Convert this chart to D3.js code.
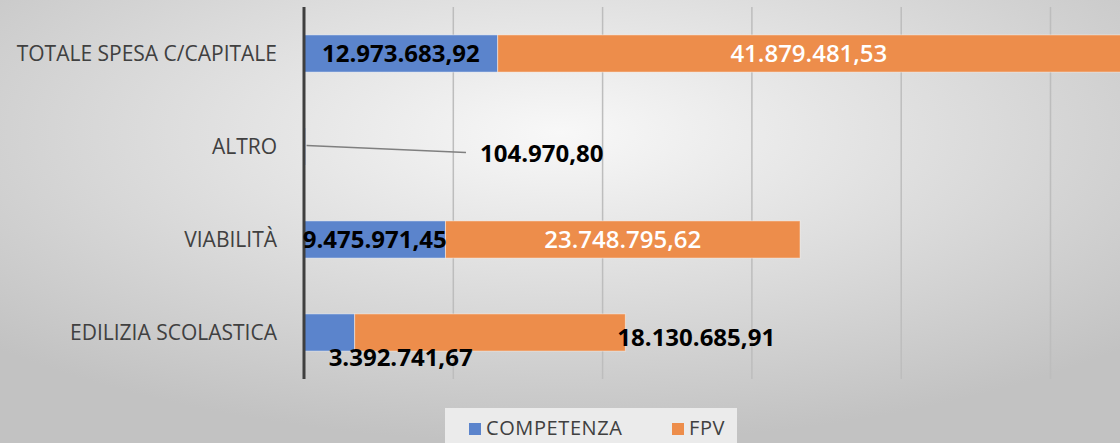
<!DOCTYPE html>
<html>
<head>
<meta charset="utf-8">
<script src="https://cdn.jsdelivr.net/npm/d3@7"></script>
<style>
  html, body { margin: 0; padding: 0; overflow: hidden; }
  svg { display: block; font-family: "Open Sans", sans-serif; }
</style>
</head>
<body>
<div id="chart"></div>
<script>
// data
const categories = ["TOTALE SPESA C/CAPITALE", "ALTRO", "VIABILITÀ", "EDILIZIA SCOLASTICA"]
const competenza = [12973683.92, 104970.80, 9475971.45, 3392741.67]
const fpv = [41879481.53, 0, 23748795.62, 18130685.91]
const seriesNames = ["COMPETENZA", "FPV"]
const xTicks = [0, 10e6, 20e6, 30e6, 40e6, 50e6]

const width = 1120, height = 443
const margin = ({ top: 7, left: 304, bottom: 64 })
const colors = ["#5b84cc", "#ed8d4b"]

const fmt = v => v.toLocaleString("it-IT", { minimumFractionDigits: 2, maximumFractionDigits: 2 })

let svg = d3.select("#chart").append("svg")
    .attr("width", width)
    .attr("height", height)

const defs = svg.append("defs")
const grad = defs.append("radialGradient")
    .attr("id", "bg")
    .attr("cx", "50%").attr("cy", "30%").attr("r", "70%")
grad.append("stop").attr("offset", "0%").attr("stop-color", "#f8f8f8")
grad.append("stop").attr("offset", "100%").attr("stop-color", "#c2c2c2")

defs.append("clipPath").attr("id", "clip")
    .append("rect").attr("width", width).attr("height", height)

svg.append("rect")
    .attr("width", width).attr("height", height)
    .attr("fill", "url(#bg)")

let xScale = d3.scaleLinear()
    .domain([0, 60e6])
    .range([margin.left, margin.left + 149.3 * 6])

let yScale = d3.scaleBand()
    .domain(categories)
    .range([margin.top, height - margin.bottom])
    .paddingInner(0.6)
    .paddingOuter(0.3)

// gridlines
svg.append("g")
    .selectAll("line")
    .data(xTicks.slice(1))
    .join("line")
    .attr("x1", d => xScale(d)).attr("x2", d => xScale(d))
    .attr("y1", margin.top).attr("y2", height - margin.bottom)
    .attr("stroke", "#bdbdbd")
    .attr("stroke-width", 1.5)

// stacked bars
const table = categories.map((c, i) => ({ cat: c, COMPETENZA: competenza[i], FPV: fpv[i] }))
const stacked = d3.stack().keys(seriesNames)(table)

const g = svg.append("g").attr("clip-path", "url(#clip)")
g.selectAll(".serie")
    .data(stacked)
    .join("g")
    .attr("fill", (d, i) => colors[i])
    .selectAll("rect")
    .data(d => d)
    .join("rect")
    .attr("x", d => xScale(d[0]))
    .attr("y", d => yScale(d.data.cat))
    .attr("width", d => Math.max(0, xScale(d[1]) - xScale(d[0])))
    .attr("height", yScale.bandwidth())
    .attr("stroke", "rgba(255,255,255,0.45)")
    .attr("stroke-width", 1)

// y axis line
svg.append("line")
    .attr("x1", margin.left).attr("x2", margin.left)
    .attr("y1", margin.top).attr("y2", height - margin.bottom)
    .attr("stroke", "#3f3f3f")
    .attr("stroke-width", 3)

// category labels
svg.append("g")
    .selectAll("text")
    .data(categories)
    .join("text")
    .attr("x", margin.left - 27)
    .attr("y", d => yScale(d) + yScale.bandwidth() / 2)
    .attr("dy", "0.35em")
    .attr("text-anchor", "end")
    .attr("font-size", 21)
    .attr("fill", "#404040")
    .text(d => d)

// data labels
const bw = yScale.bandwidth()
const mid = c => yScale(c) + bw / 2
const labels = [
    // totale
    { x: (xScale(0) + xScale(competenza[0])) / 2, y: mid(categories[0]), v: competenza[0], c: "#000", w: "bold", a: "middle" },
    { x: (xScale(competenza[0]) + width) / 2, y: mid(categories[0]), v: fpv[0], c: "#fff", w: "600", a: "middle" },
    // altro
    { x: xScale(0) + 176, y: mid(categories[1]) + 7, v: competenza[1], c: "#000", w: "bold", a: "start" },
    // viabilita
    { x: (xScale(0) + xScale(competenza[2])) / 2, y: mid(categories[2]), v: competenza[2], c: "#000", w: "bold", a: "middle" },
    { x: (xScale(competenza[2]) + xScale(competenza[2] + fpv[2])) / 2, y: mid(categories[2]), v: fpv[2], c: "#fff", w: "600", a: "middle" },
    // edilizia
    { x: xScale(competenza[3]) + 46, y: mid(categories[3]) + 25, v: competenza[3], c: "#000", w: "bold", a: "middle" },
    { x: xScale(competenza[3] + fpv[3]) - 8, y: mid(categories[3]) + 5, v: fpv[3], c: "#000", w: "bold", a: "start" }
]
svg.append("g")
    .selectAll("text")
    .data(labels)
    .join("text")
    .attr("x", d => d.x)
    .attr("y", d => d.y)
    .attr("dy", "0.36em")
    .attr("text-anchor", d => d.a)
    .attr("font-size", 24)
    .attr("font-weight", d => d.w)
    .attr("fill", d => d.c)
    .text(d => fmt(d.v))

// leader line for ALTRO
svg.append("line")
    .attr("x1", xScale(competenza[1]) + 1).attr("y1", mid(categories[1]) - 1)
    .attr("x2", xScale(0) + 162).attr("y2", mid(categories[1]) + 6)
    .attr("stroke", "#7f7f7f")
    .attr("stroke-width", 1.5)

// legend
const legend = svg.append("g").attr("transform", "translate(445,408)")
legend.append("rect")
    .attr("width", 292).attr("height", 36)
    .attr("fill", "#ebebeb")
const items = [{ n: seriesNames[0], x: 24 }, { n: seriesNames[1], x: 227 }]
items.forEach((it, i) => {
    legend.append("rect")
        .attr("x", it.x).attr("y", 15)
        .attr("width", 12).attr("height", 12)
        .attr("fill", colors[i])
    legend.append("text")
        .attr("x", it.x + 17).attr("y", 20)
        .attr("dy", "0.36em")
        .attr("font-size", 20)
        .attr("letter-spacing", 0.6)
        .attr("fill", "#404040")
        .text(it.n)
})
</script>
</body>
</html>
